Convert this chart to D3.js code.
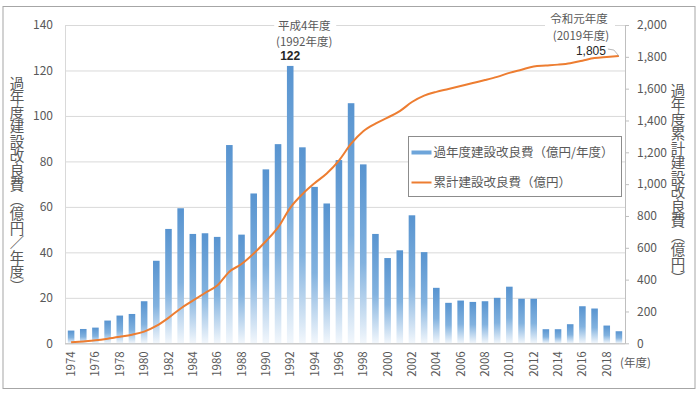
<!DOCTYPE html>
<html lang="ja">
<head>
<meta charset="utf-8">
<script src="https://cdn.jsdelivr.net/npm/d3@7"></script>
<style>
  body { margin: 0; background: #fff; }
  svg text { font-family: "Noto Sans CJK JP", "Noto Sans", sans-serif; fill: #595959; }
</style>
</head>
<body>
<div id="chart"></div>
<script>
// 年度
const years = [1974, 1975, 1976, 1977, 1978, 1979, 1980, 1981, 1982, 1983,
               1984, 1985, 1986, 1987, 1988, 1989, 1990, 1991, 1992, 1993,
               1994, 1995, 1996, 1997, 1998, 1999, 2000, 2001, 2002, 2003,
               2004, 2005, 2006, 2007, 2008, 2009, 2010, 2011, 2012, 2013,
               2014, 2015, 2016, 2017, 2018, 2019];

// 過年度建設改良費（億円/年度）
const yearlyCost = [5.6, 6.3, 6.9, 10.0, 12.2, 12.9, 18.5, 36.3, 50.3, 59.4,
                    48.1, 48.4, 46.8, 87.2, 47.8, 65.9, 76.5, 87.6, 122, 86.2,
                    68.8, 61.5, 80.6, 105.6, 78.7, 48.1, 37.5, 40.9, 56.3, 40.1,
                    24.4, 17.8, 18.8, 18.2, 18.5, 20.0, 24.9, 19.6, 19.6, 6.2,
                    6.2, 8.4, 16.3, 15.3, 7.8, 5.3];

// 累計建設改良費（億円）
const cumulativeCost = [6, 12, 19, 29, 41, 54, 73, 109, 160, 219,
                        268, 316, 363, 450, 498, 564, 641, 728, 851, 937,
                        1006, 1067, 1148, 1254, 1333, 1381, 1418, 1459, 1516, 1556,
                        1580, 1598, 1617, 1636, 1654, 1674, 1699, 1719, 1739, 1745,
                        1751, 1760, 1776, 1792, 1799, 1805];

const leftTicks = [0, 20, 40, 60, 80, 100, 120, 140];
const rightTicks = [0, 200, 400, 600, 800, 1000, 1200, 1400, 1600, 1800, 2000];
const xTickYears = [1974, 1976, 1978, 1980, 1982, 1984, 1986, 1988, 1990, 1992,
                    1994, 1996, 1998, 2000, 2002, 2004, 2006, 2008, 2010, 2012,
                    2014, 2016, 2018];
const seriesNames = ["過年度建設改良費（億円/年度）", "累計建設改良費（億円）"];

const conf = { width: 700, height: 394, left: 65, right: 625, top: 25, bottom: 343.3 };
const numFont = '"Liberation Sans", Arial, sans-serif';

const svg = d3.select("#chart")
    .append("svg")
    .attr("width", conf.width)
    .attr("height", conf.height);

// 外枠
svg.append("rect")
    .attr("x", 3).attr("y", 6.5)
    .attr("width", 692).attr("height", 382)
    .attr("fill", "#fff")
    .attr("stroke", "#a6a6a6");

// gradient for the bars
const grad = svg.append("defs").append("linearGradient")
    .attr("id", "barGrad")
    .attr("x1", 0).attr("y1", 0).attr("x2", 0).attr("y2", 1);
grad.append("stop").attr("offset", "0%").attr("stop-color", "#5894d0");
grad.append("stop").attr("offset", "55%").attr("stop-color", "#82b2df");
grad.append("stop").attr("offset", "100%").attr("stop-color", "#f2f7fc");

const x = d3.scaleBand()
    .domain(years)
    .range([conf.left, conf.right])
    .paddingInner(0.46)
    .paddingOuter(0.23);
const yL = d3.scaleLinear().domain([0, 140]).range([conf.bottom, conf.top]);
const yR = d3.scaleLinear().domain([0, 2000]).range([conf.bottom, conf.top]);
const cx = d => x(d) + x.bandwidth() / 2;

// gridlines
const grid = svg.append("g")
    .attr("transform", `translate(${conf.left},0)`)
    .call(d3.axisLeft(yL).tickValues(leftTicks).tickSize(-(conf.right - conf.left)).tickFormat(""));
grid.select(".domain").remove();
grid.selectAll("line").attr("stroke", "#d9d9d9");

// left axis
const axL = svg.append("g")
    .attr("transform", `translate(${conf.left},0)`)
    .call(d3.axisLeft(yL).tickValues(leftTicks).tickSize(0).tickPadding(12));
axL.select(".domain").attr("stroke", "#d9d9d9");
axL.selectAll("text").style("font-size", "12px");

// right axis
const axR = svg.append("g")
    .attr("transform", `translate(${conf.right},0)`)
    .call(d3.axisRight(yR).tickValues(rightTicks).tickSize(4).tickSizeOuter(0)
        .tickPadding(8).tickFormat(d3.format(",")));
axR.select(".domain").attr("stroke", "#bfbfbf");
axR.selectAll("line").attr("stroke", "#bfbfbf");
axR.selectAll("text").style("font-size", "12px");

// bars
svg.append("g")
    .selectAll("rect")
    .data(years)
    .enter().append("rect")
        .attr("x", d => x(d))
        .attr("width", x.bandwidth())
        .attr("y", (d, i) => yL(yearlyCost[i]))
        .attr("height", (d, i) => conf.bottom - yL(yearlyCost[i]))
        .attr("fill", "url(#barGrad)");

// bottom axis
const axB = svg.append("g")
    .attr("transform", `translate(0,${conf.bottom})`)
    .call(d3.axisBottom(x).tickValues(xTickYears).tickSize(0).tickSizeOuter(0));
axB.select(".domain").attr("stroke", "#bfbfbf").attr("d", `M${conf.left},0.5H${conf.right}`);
axB.selectAll("text")
    .style("font-size", "11.5px")
    .attr("transform", "rotate(-90)")
    .attr("x", -8)
    .attr("y", 0)
    .attr("dy", "0.35em")
    .style("text-anchor", "end");

svg.append("text")
    .attr("x", conf.right - 5).attr("y", 367)
    .style("font-size", "11.5px")
    .text("(年度)");

// cumulative line
const line = d3.line()
    .x((d, i) => cx(years[i]))
    .y(d => yR(d))
    .curve(d3.curveMonotoneX);
svg.append("path")
    .datum(cumulativeCost)
    .attr("d", line)
    .attr("fill", "none")
    .attr("stroke", "#ed7d31")
    .attr("stroke-width", 2);

// annotation 1992
const a1 = cx(1992);
svg.append("rect")
    .attr("x", a1 - 16).attr("y", 17).attr("width", 62).attr("height", 16)
    .attr("fill", "#fff");
svg.append("text")
    .attr("x", a1 + 14).attr("y", 29.5)
    .style("font-size", "11.5px").style("text-anchor", "middle")
    .text("平成4年度");
svg.append("text")
    .attr("x", a1 + 14).attr("y", 45.5)
    .style("font-size", "11.5px").style("text-anchor", "middle")
    .text("(1992年度)");
svg.append("text")
    .attr("x", a1).attr("y", yL(yearlyCost[years.indexOf(1992)]) - 6)
    .style("font-family", numFont)
    .style("font-size", "12px").style("text-anchor", "middle")
    .style("font-weight", "bold").style("fill", "#262626")
    .text(d3.format(",")(yearlyCost[years.indexOf(1992)]));

// annotation 2019
const last = years.length - 1;
const a2x = cx(years[last]);
const a2y = yR(cumulativeCost[last]);
svg.append("rect")
    .attr("x", 545).attr("y", 12).attr("width", 70).attr("height", 16)
    .attr("fill", "#fff");
svg.append("text")
    .attr("x", a2x - 40).attr("y", 22.5)
    .style("font-size", "11.5px").style("text-anchor", "middle")
    .text("令和元年度");
svg.append("text")
    .attr("x", a2x - 38).attr("y", 40)
    .style("font-size", "11.5px").style("text-anchor", "middle")
    .text("(2019年度)");
svg.append("text")
    .attr("x", a2x - 13).attr("y", a2y - 1)
    .style("font-family", numFont)
    .style("font-size", "12px").style("text-anchor", "end")
    .style("fill", "#262626")
    .text(d3.format(",")(cumulativeCost[last]));
svg.append("path")
    .attr("d", `M${a2x - 11},${a2y - 7}L${a2x - 5},${a2y - 6}L${a2x},${a2y}`)
    .attr("fill", "none")
    .attr("stroke", "#a6a6a6")
    .attr("stroke-width", 0.8);

// axis titles (vertical)
svg.append("text")
    .attr("x", 17).attr("y", 76)
    .style("writing-mode", "vertical-rl")
    .style("font-size", "14.5px")
    .text("過年度建設改良費（億円／年度）");
svg.append("text")
    .attr("x", 678).attr("y", 83)
    .style("writing-mode", "vertical-rl")
    .style("font-size", "14.5px")
    .text("過年度累計建設改良費（億円）");

// legend
const legend = svg.append("g").attr("transform", "translate(408.5,136.5)");
legend.append("rect")
    .attr("width", 213).attr("height", 60)
    .attr("fill", "#fff")
    .attr("stroke", "#8c8c8c");
const items = legend.selectAll(".legend").data(seriesNames)
    .enter().append("g")
    .attr("class", "legend")
    .attr("transform", (d, i) => `translate(0,${16 + i * 30})`);
items.each(function(d, i) {
    const g = d3.select(this);
    if (i === 0) {
        g.append("rect").attr("x", 3).attr("y", -2).attr("width", 20).attr("height", 4)
            .attr("fill", "#6ea5da");
    } else {
        g.append("line").attr("x1", 3).attr("x2", 23).attr("y1", 0).attr("y2", 0)
            .attr("stroke", "#ed7d31").attr("stroke-width", 2);
    }
});
items.append("text")
    .attr("x", 25)
    .attr("dy", "0.35em")
    .style("font-size", "12.5px")
    .text(d => d);
</script>
</body>
</html>
